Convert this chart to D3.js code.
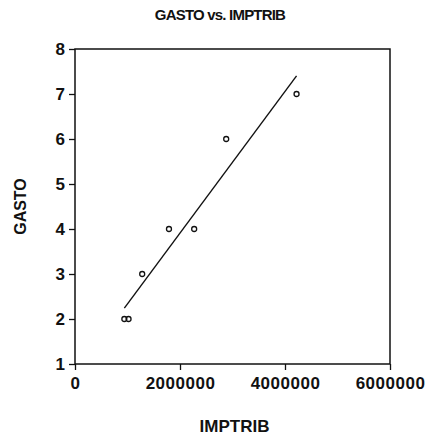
<!DOCTYPE html>
<html>
<head>
<meta charset="utf-8">
<script src="https://cdn.jsdelivr.net/npm/d3@7"></script>
<style>
  body { margin: 0; background: #fff; }
  text { font-family: "Liberation Sans", Arial, sans-serif; font-weight: bold; fill: #111; }
  .tick line { stroke: #111; stroke-width: 1.3; }
</style>
</head>
<body>
<svg width="425" height="438"></svg>
<script>
// values
const imptrib = [940000, 1020000, 1280000, 1790000, 2270000, 2880000, 4220000];
const gasto = [2, 2, 3, 4, 4, 6, 7];
const xTicks = [0, 2000000, 4000000, 6000000];
const yTicks = [1, 2, 3, 4, 5, 6, 7, 8];

const svg = d3.select('svg');
const width = +svg.attr('width');
const height = +svg.attr('height');

const render = data => {
  const xValue = d => d.imptrib;
  const yValue = d => d.gasto;
  const margin = { left: 75, top: 49, right: 35, bottom: 74 };
  const innerWidth = width - margin.left - margin.right;
  const innerHeight = height - margin.top - margin.bottom;

  const xScale = d3.scaleLinear()
    .domain([0, 6000000])
    .range([0, innerWidth]);

  const yScale = d3.scaleLinear()
    .domain([1, 8])
    .range([innerHeight, 0]);

  const g = svg.append('g')
    .attr('transform', `translate(${margin.left}, ${margin.top})`);

  // x axis
  const xAxisG = g.append('g')
    .attr('transform', `translate(0, ${innerHeight})`)
    .call(d3.axisBottom(xScale).tickValues(xTicks).tickSize(6).tickPadding(7).tickFormat(d3.format('d')));
  xAxisG.select('.domain').remove();
  xAxisG.selectAll('text')
    .attr('font-size', 17)
    .attr('letter-spacing', 0.5)
    .attr('font-family', '"Liberation Sans", Arial, sans-serif');

  // y axis
  const yAxisG = g.append('g')
    .call(d3.axisLeft(yScale).tickValues(yTicks).tickSize(6).tickPadding(4).tickFormat(d3.format('d')));
  yAxisG.select('.domain').remove();
  yAxisG.selectAll('text')
    .attr('font-size', 17)
    .attr('font-family', '"Liberation Sans", Arial, sans-serif');

  // frame
  g.append('rect')
    .attr('x', 0)
    .attr('y', 0)
    .attr('width', innerWidth)
    .attr('height', innerHeight)
    .attr('fill', 'none')
    .attr('stroke', '#111')
    .attr('stroke-width', 1.5);

  // least squares fit over the data range
  const mx = d3.mean(data, xValue);
  const my = d3.mean(data, yValue);
  const slope = d3.sum(data, d => (xValue(d) - mx) * (yValue(d) - my)) /
    d3.sum(data, d => (xValue(d) - mx) ** 2);
  const fit = x => my + slope * (x - mx);
  const [x0, x1] = d3.extent(data, xValue);

  g.append('line')
    .attr('x1', xScale(x0))
    .attr('y1', yScale(fit(x0)))
    .attr('x2', xScale(x1))
    .attr('y2', yScale(fit(x1)))
    .attr('stroke', '#111')
    .attr('stroke-width', 1.4);

  g.selectAll('circle').data(data)
    .enter().append('circle')
      .attr('cx', d => xScale(xValue(d)))
      .attr('cy', d => yScale(yValue(d)))
      .attr('r', 2.5)
      .attr('fill', 'none')
      .attr('stroke', '#111')
      .attr('stroke-width', 1.3);

  // titles
  svg.append('text')
    .attr('x', 220)
    .attr('y', 20)
    .attr('text-anchor', 'middle')
    .attr('font-size', 15)
    .attr('letter-spacing', -0.8)
    .text('GASTO vs. IMPTRIB');

  svg.append('text')
    .attr('x', margin.left + innerWidth / 2 + 2)
    .attr('y', 432)
    .attr('text-anchor', 'middle')
    .attr('font-size', 17)
    .text('IMPTRIB');

  svg.append('text')
    .attr('transform', `translate(26, ${margin.top + innerHeight / 2}) rotate(-90)`)
    .attr('text-anchor', 'middle')
    .attr('font-size', 16)
    .text('GASTO');
};

const data = imptrib.map((v, i) => ({ imptrib: v, gasto: gasto[i] }));
render(data);
</script>
</body>
</html>
